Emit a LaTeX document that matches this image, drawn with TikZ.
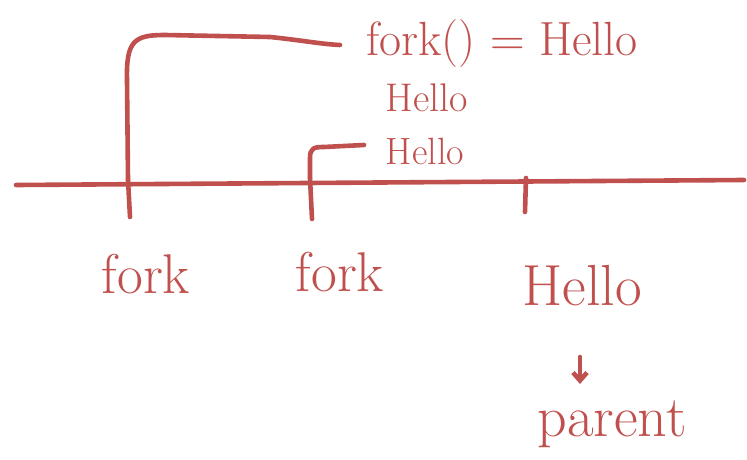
\documentclass[tikz,border=0pt]{standalone}
\usetikzlibrary{arrows.meta}
\definecolor{ink}{HTML}{C0504D}
\begin{document}
\begin{tikzpicture}[x=1pt,y=-1pt,
  stroke/.style={draw=ink,line width=4.6pt,line cap=round,line join=round},
  lbl/.style={text=ink,inner sep=0pt,anchor=center}]
\useasboundingbox (0,0) rectangle (747,460);
% timeline
\coordinate (tl) at (16,185);
\coordinate (tr) at (744,180);
\draw[stroke] (tl) -- (tr);
% ticks
\coordinate (t1top) at (128,180);
\coordinate (t1bot) at (130,217);
\coordinate (t2top) at (310,178);
\coordinate (t2bot) at (312,219);
\coordinate (t3top) at (526,178);
\coordinate (t3bot) at (525,212);
\draw[stroke] (t1top) -- (t1bot);
\draw[stroke] (t2top) -- (t2bot);
\draw[stroke] (t3top) -- (t3bot);
% labels
\node[lbl,font=\fontsize{48}{56}\selectfont] (forkeq) at (502,44) {fork() = Hello};
\node[lbl,font=\fontsize{40}{46}\selectfont] (hello1) at (427,98) {Hello};
\node[lbl,font=\fontsize{38}{44}\selectfont] (hello2) at (425,151) {Hello};
\node[lbl,font=\fontsize{56}{64}\selectfont] (fork1) at (146,274) {fork};
\node[lbl,font=\fontsize{56}{64}\selectfont] (fork2) at (340,272) {fork};
\node[lbl,font=\fontsize{58}{66}\selectfont] (hello3) at (582,286) {Hello};
\node[lbl,font=\fontsize{58}{66}\selectfont] (parent) at (612,424) {parent};
% brackets
\coordinate (b1end) at (340,45);
\coordinate (b2end) at (364,145);
\draw[stroke] (t1top) -- (127,80) .. controls (126,40) and (135,35) .. (165,35)
  -- (270,37) .. controls (300,40) and (320,44) .. (b1end);
\draw[stroke] (t2top) -- (310,158) .. controls (310,148) and (314,147) .. (324,147) -- (b2end);
% arrow
\coordinate (arA) at (580,357);
\coordinate (arB) at (580,384);
\draw[stroke,-{Straight Barb[length=8pt,width=14pt]}] (arA) -- (arB);
\end{tikzpicture}
\end{document}
